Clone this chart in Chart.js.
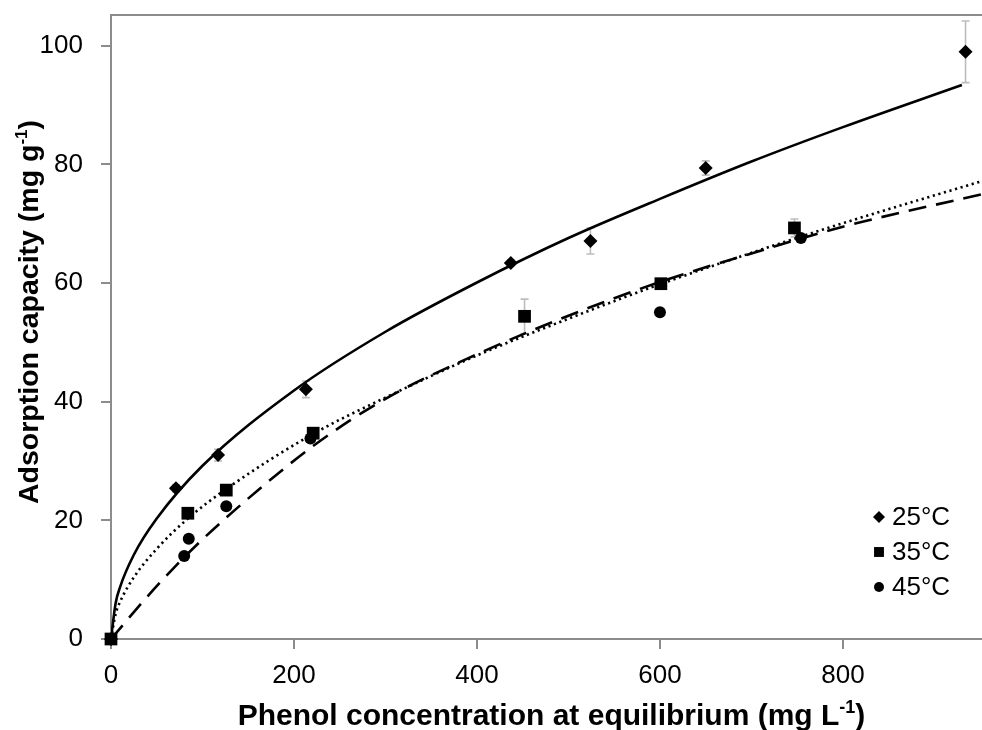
<!DOCTYPE html>
<html>
<head>
<meta charset="utf-8">
<script src="https://cdn.jsdelivr.net/npm/chart.js@4.4.1/dist/chart.umd.min.js"></script>
<style>
  html, body { margin: 0; padding: 0; background: #fff; overflow: hidden; }
  canvas { display: block; }
</style>
</head>
<body>
<canvas id="grafico" width="982" height="730"></canvas>
<script>
// measured points (mg/L vs mg/g) with error bars
const labels = ['25°C', '35°C', '45°C'];

const conc25 = [0, 71, 117, 213, 437, 524, 650, 934];
const cap25 = [0, 25.4, 31.0, 42.1, 63.4, 67.1, 79.4, 99.0];
const err25 = [0, 0.6, 1.0, 1.4, 0.5, 2.2, 1.2, 5.2];

const conc35 = [0, 84, 126, 221, 452, 601, 747];
const cap35 = [0, 21.2, 25.1, 34.7, 54.4, 59.9, 69.3];
const err35 = [0, 0, 0, 0, 2.9, 0, 1.5];

const conc45 = [0, 80, 85, 126, 218, 600, 754];
const cap45 = [0, 14.0, 16.9, 22.4, 33.8, 55.1, 67.6];

// isotherm curves
const curveX25 = [0, 5, 10, 25, 50, 100, 200, 300, 400, 500, 600, 700, 800, 930];
const curveY25 = [0, 6.0, 8.8, 14.2, 20.3, 29.2, 41.9, 51.8, 60.1, 67.6, 74.2, 80.5, 86.3, 93.4];

const curveX35 = [0, 5, 10, 25, 50, 84, 127, 220, 300, 400, 500, 600, 700, 800, 952];
const curveY35 = [0, 4.2, 6.3, 10.4, 15.2, 20.3, 25.4, 34.5, 40.7, 47.8, 54.0, 59.8, 65.1, 70.1, 77.2];

const curveX45 = [0, 40, 70, 100, 160, 225, 300, 400, 500, 600, 700, 800, 952];
const curveY45 = [0, 7.2, 12.2, 16.8, 25.0, 33.0, 40.5, 48.0, 54.5, 60.2, 65.0, 69.5, 75.0];

const xTicks = [0, 200, 400, 600, 800];
const yTicks = [0, 20, 40, 60, 80, 100];

const AXIS_GREY = '#8c8c8c';
const FONT = "'Liberation Sans', Arial, sans-serif";

function pts(xs, ys) {
  return xs.map((x, i) => ({ x: x, y: ys[i] }));
}

function pointSet(label, xs, ys, style, radius, err) {
  return {
    label: label,
    data: pts(xs, ys),
    err: err,
    showLine: false,
    pointStyle: style,
    pointRadius: radius,
    pointHoverRadius: radius,
    pointBackgroundColor: '#000',
    pointBorderColor: '#000',
    pointBorderWidth: 0,
    clip: false
  };
}

function curveSet(xs, ys, dash) {
  return {
    data: pts(xs, ys),
    showLine: true,
    borderColor: '#000',
    borderWidth: 2.6,
    borderDash: dash,
    borderCapStyle: 'butt',
    cubicInterpolationMode: 'monotone',
    pointRadius: 0,
    pointHoverRadius: 0
  };
}

// grey error bars, drawn under the markers
const errorBars = {
  id: 'errorBars',
  beforeDatasetsDraw(chart) {
    const ctx = chart.ctx;
    const xs = chart.scales.x, ys = chart.scales.y;
    ctx.save();
    ctx.strokeStyle = '#bdbdbd';
    ctx.lineWidth = 1.6;
    chart.data.datasets.forEach(ds => {
      if (!ds.err) return;
      ds.data.forEach((p, i) => {
        const e = ds.err[i];
        if (!e) return;
        const px = xs.getPixelForValue(p.x);
        const top = ys.getPixelForValue(p.y + e);
        const bot = ys.getPixelForValue(p.y - e);
        ctx.beginPath();
        ctx.moveTo(px, top); ctx.lineTo(px, bot);
        ctx.moveTo(px - 4, top); ctx.lineTo(px + 4, top);
        ctx.moveTo(px - 4, bot); ctx.lineTo(px + 4, bot);
        ctx.stroke();
      });
    });
    ctx.restore();
  }
};

// top frame line, axis titles with superscripts, legend in the corner
const decorations = {
  id: 'decorations',
  afterDraw(chart) {
    const ctx = chart.ctx;
    const a = chart.chartArea;
    ctx.save();

    ctx.strokeStyle = AXIS_GREY;
    ctx.lineWidth = 2;
    ctx.beginPath();
    ctx.moveTo(a.left - 1, a.top);
    ctx.lineTo(a.right, a.top);
    ctx.stroke();

    ctx.fillStyle = '#000';
    ctx.textBaseline = 'alphabetic';

    function titleWithSup(main, sup, cx, cy, size) {
      const big = 'bold ' + size + 'px ' + FONT;
      const small = 'bold ' + Math.round(size * 0.6) + 'px ' + FONT;
      ctx.font = big;
      const w1 = ctx.measureText(main).width;
      const w3 = ctx.measureText(')').width;
      ctx.font = small;
      const w2 = ctx.measureText(sup).width;
      let x = cx - (w1 + w2 + w3) / 2;
      ctx.textAlign = 'left';
      ctx.font = big;
      ctx.fillText(main, x, cy);
      x += w1;
      ctx.font = small;
      ctx.fillText(sup, x, cy - size * 0.4);
      x += w2;
      ctx.font = big;
      ctx.fillText(')', x, cy);
    }

    titleWithSup('Phenol concentration at equilibrium (mg L', '-1', (a.left + a.right) / 2 + 5, 725, 30);

    ctx.save();
    ctx.translate(38, 312);
    ctx.rotate(-Math.PI / 2);
    titleWithSup('Adsorption capacity (mg g', '-1', 0, 0, 28.5);
    ctx.restore();

    // legend
    const styles = [['rectRot', 6], ['rect', 7], ['circle', 5]];
    ctx.font = '26px ' + FONT;
    ctx.textAlign = 'left';
    ctx.textBaseline = 'middle';
    labels.forEach((txt, i) => {
      const y = a.bottom - 122 + i * 35;
      Chart.helpers.drawPoint(ctx, {
        pointStyle: styles[i][0], radius: styles[i][1], rotation: 0,
        borderWidth: 0
      }, a.right - 103, y);
      ctx.fillText(txt, a.right - 90, y + 1);
    });

    ctx.restore();
  }
};

const ctx = document.getElementById('grafico').getContext('2d');
const grafico = new Chart(ctx, {
  type: 'scatter',
  data: {
    datasets: [
      pointSet(labels[0], conc25, cap25, 'rectRot', 7, err25),
      pointSet(labels[1], conc35, cap35, 'rect', 9, err35),
      pointSet(labels[2], conc45, cap45, 'circle', 6, null),
      curveSet(curveX25, curveY25, []),
      curveSet(curveX35, curveY35, [2.2, 3.6]),
      curveSet(curveX45, curveY45, [18, 10])
    ]
  },
  options: {
    responsive: false,
    animation: false,
    devicePixelRatio: 1,
    layout: { padding: 0, autoPadding: false },
    plugins: {
      legend: { display: false },
      tooltip: { enabled: false }
    },
    scales: {
      x: {
        type: 'linear',
        min: 0,
        max: 952,
        afterFit(scale) {
          scale.height = 91;
          scale.paddingLeft = 0;
          scale.paddingRight = 0;
        },
        afterBuildTicks(scale) { scale.ticks = xTicks.map(v => ({ value: v })); },
        border: { color: AXIS_GREY, width: 2 },
        grid: { drawOnChartArea: false, drawTicks: true, tickLength: 10, color: AXIS_GREY, lineWidth: 2 },
        ticks: { color: '#000', font: { family: FONT, size: 26 }, padding: 11, maxRotation: 0 }
      },
      y: {
        type: 'linear',
        min: 0,
        max: 105.2,
        afterFit(scale) {
          scale.width = 111;
          scale.paddingTop = 15;
          scale.paddingBottom = 0;
        },
        afterBuildTicks(scale) { scale.ticks = yTicks.map(v => ({ value: v })); },
        border: { color: AXIS_GREY, width: 2 },
        grid: { drawOnChartArea: false, drawTicks: true, tickLength: 10, color: AXIS_GREY, lineWidth: 2 },
        ticks: { color: '#000', font: { family: FONT, size: 26 }, padding: 18 }
      }
    }
  },
  plugins: [errorBars, decorations]
});
</script>
</body>
</html>
